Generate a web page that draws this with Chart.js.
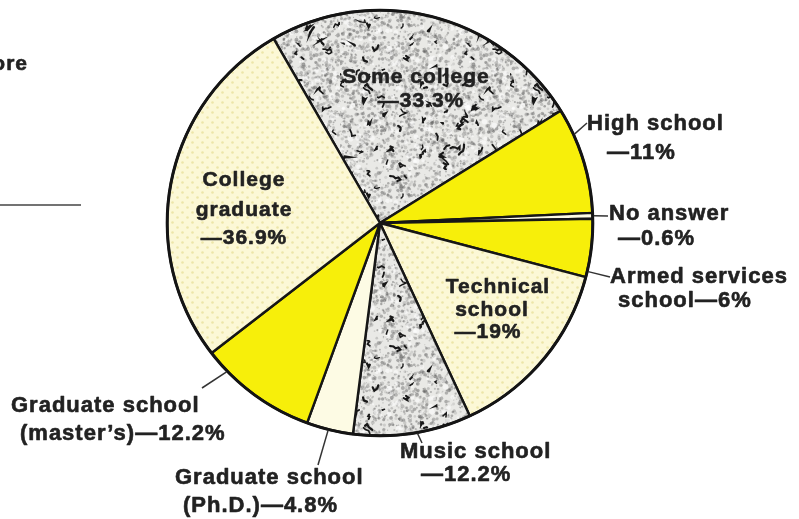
<!DOCTYPE html>
<html>
<head>
<meta charset="utf-8">
<script src="https://cdn.jsdelivr.net/npm/chart.js@4/dist/chart.umd.min.js"></script>
<style>
  html, body { margin: 0; padding: 0; background: #ffffff; }
  #wrap { position: relative; width: 799px; height: 519px; }
</style>
</head>
<body>
<div id="wrap"><canvas id="c" width="799" height="519"></canvas></div>
<script>
// ---- data ----
const categories = [
  "Some college", "High school", "No answer", "Armed services school",
  "Technical school", "Music school", "Graduate school (Ph.D.)",
  "Graduate school (master's)", "College graduate"
];
const percentValues = [33.3, 11, 0.6, 6, 19, 12.2, 4.8, 12.2, 36.9];
const valueLabels = ["33.3%", "11%", "0.6%", "6%", "19%", "12.2%", "4.8%", "12.2%", "36.9%"];

// ---- fill textures ----
function lcg(seed) { let s = seed >>> 0; return () => { s = (s * 1664525 + 1013904223) >>> 0; return s / 4294967296; }; }
function speckle() {
  const t = document.createElement('canvas'); t.width = 170; t.height = 170;
  const g = t.getContext('2d'); const r = lcg(12345);
  g.fillStyle = '#e9e9e6'; g.fillRect(0, 0, 170, 170);
  for (let i = 0; i < 2600; i++) {
    g.fillStyle = 'rgba(95,95,95,' + (0.15 + r() * 0.35).toFixed(2) + ')';
    g.beginPath(); g.arc(r() * 170, r() * 170, 0.5 + r() * 1.5, 0, Math.PI * 2); g.fill();
  }
  for (let i = 0; i < 260; i++) {
    g.fillStyle = 'rgba(255,255,255,0.55)';
    g.beginPath(); g.arc(r() * 170, r() * 170, 1 + r() * 2, 0, Math.PI * 2); g.fill();
  }
  g.strokeStyle = '#181818'; g.lineCap = 'round';
  for (let i = 0; i < 85; i++) {
    let x = r() * 170, y = r() * 170;
    g.lineWidth = 1.3 + r() * 1.1;
    g.beginPath(); g.moveTo(x, y);
    const n = 2 + Math.floor(r() * 4);
    for (let k = 0; k < n; k++) { x += (r() - 0.5) * 7; y += (r() - 0.5) * 7; g.lineTo(x, y); }
    g.stroke();
  }
  return g.createPattern(t, 'repeat');
}
function dots() {
  const t = document.createElement('canvas'); t.width = 10; t.height = 10;
  const g = t.getContext('2d');
  g.fillStyle = '#fcf8d6'; g.fillRect(0, 0, 10, 10);
  g.fillStyle = '#ece5a8';
  g.beginPath(); g.arc(2.5, 2.5, 1.3, 0, Math.PI * 2); g.fill();
  g.beginPath(); g.arc(7.5, 7.5, 1.3, 0, Math.PI * 2); g.fill();
  return g.createPattern(t, 'repeat');
}
const SPECK = speckle(), DOTS = dots(), YEL = '#f7ef0a', CREAM = '#fdfbe4';
const sliceFills = [SPECK, YEL, CREAM, YEL, DOTS, SPECK, CREAM, YEL, DOTS];

// ---- label layout (text positions) ----
const FONT_OUT = 'bold 22px "Liberation Sans", Arial, Helvetica, sans-serif';
const FONT_IN = 'bold 21px "Liberation Sans", Arial, Helvetica, sans-serif';
const textItems = [
  { t: "more", x: 28, y: 64, a: 'right', f: FONT_IN },
  { t: "Some college", x: 416, y: 77, a: 'center', f: FONT_IN },
  { t: "\u2014" + valueLabels[0], x: 421, y: 101, a: 'center', f: FONT_IN },
  { t: "College", x: 244, y: 180, a: 'center', f: FONT_IN },
  { t: "graduate", x: 244, y: 210, a: 'center', f: FONT_IN },
  { t: "\u2014" + valueLabels[8], x: 244, y: 238, a: 'center', f: FONT_IN },
  { t: "Technical", x: 498, y: 287, a: 'center', f: FONT_IN },
  { t: "school", x: 492, y: 310, a: 'center', f: FONT_IN },
  { t: "\u2014" + valueLabels[4], x: 488, y: 332, a: 'center', f: FONT_IN },
  { t: "High school", x: 587, y: 124, a: 'left', f: FONT_OUT },
  { t: "\u2014" + valueLabels[1], x: 607, y: 153, a: 'left', f: FONT_OUT },
  { t: "No answer", x: 609, y: 214, a: 'left', f: FONT_OUT },
  { t: "\u2014" + valueLabels[2], x: 618, y: 239, a: 'left', f: FONT_OUT },
  { t: "Armed services", x: 610, y: 277, a: 'left', f: FONT_OUT },
  { t: "school\u2014" + valueLabels[3], x: 618, y: 301, a: 'left', f: FONT_OUT },
  { t: "Music school", x: 400, y: 452, a: 'left', f: FONT_OUT },
  { t: "\u2014" + valueLabels[5], x: 421, y: 475, a: 'left', f: FONT_OUT },
  { t: "Graduate school", x: 11, y: 406, a: 'left', f: FONT_OUT },
  { t: "(master\u2019s)\u2014" + valueLabels[7], x: 20, y: 434, a: 'left', f: FONT_OUT },
  { t: "Graduate school", x: 175, y: 478, a: 'left', f: FONT_OUT },
  { t: "(Ph.D.)\u2014" + valueLabels[6], x: 183, y: 506, a: 'left', f: FONT_OUT }
];
// leader lines: slice index, fraction along slice, end point
const leaders = [
  { i: 1, f: 0.25, ex: 587, ey: 123 },
  { i: 2, f: 0.5, ex: 608, ey: 216 },
  { i: 3, f: 0.9, ex: 610, ey: 277 },
  { i: 5, f: 0.46, ex: 422, ey: 443 },
  { i: 7, f: 0.8, ex: 202, ey: 388 },
  { i: 6, f: 0.53, ex: 318, ey: 465 }
];

const decor = {
  id: 'decor',
  afterDatasetsDraw(chart) {
    const ctx = chart.ctx;
    const arcs = chart.getDatasetMeta(0).data;
    const a0 = arcs[0];
    ctx.save();
    // thicker outer rim
    ctx.strokeStyle = '#141414'; ctx.lineWidth = 3;
    ctx.beginPath(); ctx.arc(a0.x, a0.y, a0.outerRadius, 0, Math.PI * 2); ctx.stroke();
    // leader lines
    ctx.strokeStyle = '#333'; ctx.lineWidth = 1.5;
    leaders.forEach(L => {
      const a = arcs[L.i];
      const ang = a.startAngle + L.f * (a.endAngle - a.startAngle);
      const r = a.outerRadius + 1;
      ctx.beginPath();
      ctx.moveTo(a.x + r * Math.cos(ang), a.y + r * Math.sin(ang));
      ctx.lineTo(L.ex, L.ey);
      ctx.stroke();
    });
    // rule at left
    ctx.strokeStyle = '#444'; ctx.lineWidth = 1.6;
    ctx.beginPath(); ctx.moveTo(0, 205); ctx.lineTo(81, 205); ctx.stroke();
    // texts
    ctx.fillStyle = '#222';
    ctx.strokeStyle = '#222';
    ctx.lineWidth = 0.6;
    ctx.lineJoin = 'round';
    if ('letterSpacing' in ctx) ctx.letterSpacing = '1px';
    ctx.textBaseline = 'middle';
    textItems.forEach(it => {
      ctx.font = it.f;
      ctx.textAlign = it.a;
      ctx.fillText(it.t, it.x, it.y);
      ctx.strokeText(it.t, it.x, it.y);
    });
    ctx.restore();
  }
};

new Chart(document.getElementById('c'), {
  type: 'pie',
  data: {
    labels: categories,
    datasets: [{
      data: percentValues,
      backgroundColor: sliceFills,
      borderColor: '#161616',
      borderWidth: 2.4
    }]
  },
  options: {
    responsive: false,
    animation: false,
    rotation: -30,
    layout: { padding: { left: 166, right: 205, top: 9, bottom: 82 } },
    plugins: { legend: { display: false }, tooltip: { enabled: false } },
    events: []
  },
  plugins: [decor]
});
</script>
</body>
</html>
